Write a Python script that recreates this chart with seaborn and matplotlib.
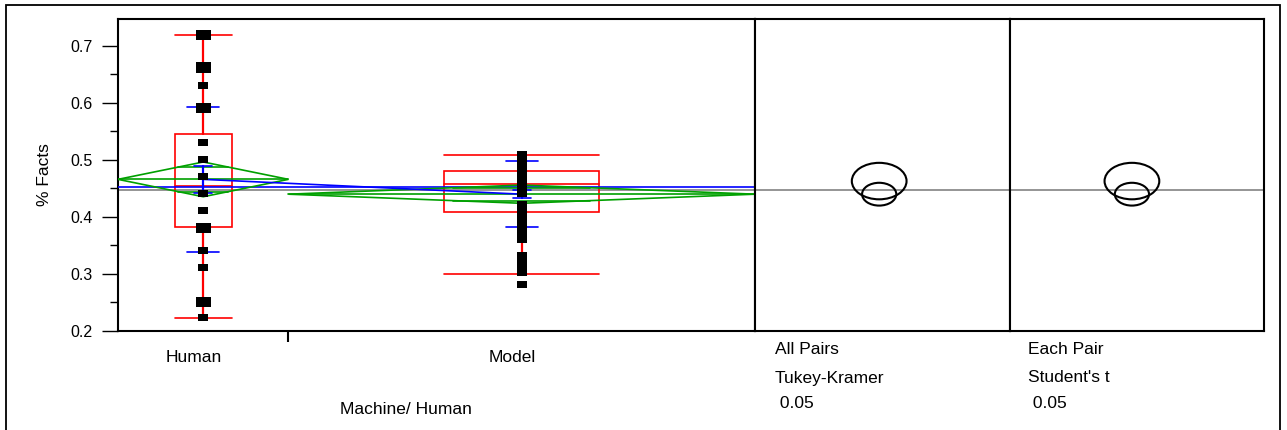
import numpy as np
import pandas as pd
import matplotlib
matplotlib.use("Agg")
import matplotlib.pyplot as plt
import seaborn as sns
from matplotlib.patches import Ellipse, Rectangle, Polygon
from matplotlib.path import Path
from matplotlib.ticker import MultipleLocator
import matplotlib.transforms as mtrans

# ---------------- data ----------------
groups = ["Human", "Model"]
group_counts = [19, 52]

human_values = [0.719, 0.662, 0.6305, 0.5915, 0.531, 0.500, 0.471, 0.442,
                0.412, 0.381, 0.342, 0.312, 0.251, 0.224]
human_mult = [2, 2, 1, 2, 1, 1, 1, 1, 1, 2, 1, 1, 2, 1]

model_values = [0.509, 0.499, 0.490, 0.481, 0.472, 0.463, 0.455, 0.447, 0.442,
                0.4215, 0.412, 0.403, 0.394, 0.385, 0.376, 0.368, 0.361,
                0.332, 0.323, 0.314, 0.306, 0.302, 0.282]
model_mult = [1] * len(model_values)

means = [0.466, 0.440]
ci_half = [0.0305, 0.016]
sds = [0.1275, 0.058]
ses = [0.0243, 0.0075]
q1 = [0.382, 0.408]
medians = [0.455, 0.458]
q3 = [0.546, 0.480]
whisk_lo = [0.222, 0.300]
whisk_hi = [0.720, 0.508]
grand_mean = 0.448
mean_of_means = 0.453

circle_centers = [0.463, 0.440]
circle_radii = [0.032, 0.020]
compare_texts = [["All Pairs", "Tukey-Kramer", " 0.05"],
                 ["Each Pair", "Student's t", " 0.05"]]

y_label = "% Facts"
x_label = "Machine/ Human"
y_ticks = [0.2, 0.3, 0.4, 0.5, 0.6, 0.7]

# ---------------- style ----------------
sns.set_style("white")
plt.rcParams["font.family"] = ["Liberation Sans", "DejaVu Sans"]
plt.rcParams["text.color"] = "black"
plt.rcParams["axes.labelcolor"] = "black"
plt.rcParams["xtick.color"] = "black"
plt.rcParams["ytick.color"] = "black"

W, H = 1287, 430
DPI = 100
fig = plt.figure(figsize=(W / DPI, H / DPI), dpi=DPI)


def fx(px):
    return px / W


def fy(py):
    return 1 - py / H


ax = fig.add_axes([fx(118), fy(331), fx(755) - fx(118), fy(19) - fy(331)])
ax2 = fig.add_axes([fx(755), fy(331), fx(1010) - fx(755), fy(19) - fy(331)])
ax3 = fig.add_axes([fx(1010), fy(331), fx(1264) - fx(1010), fy(19) - fy(331)])

YLIM = (0.2, 0.7473)
ax_w_px = fx(755) * W - fx(118) * W
px = 1.0 / ax_w_px  # one pixel in x data units of main axes

# group segments proportional to counts
tot = sum(group_counts)
edges = np.concatenate([[0], np.cumsum(group_counts) / tot])
centers = (edges[:-1] + edges[1:]) / 2
seg_w = np.diff(edges)

RED = "#FF0000"
BLUE = "#0000FF"
GREEN = "#00A000"
GRAY = "#8C8C8C"
LW = 1.2

# grand mean (gray) across all panels
for a in (ax, ax2, ax3):
    a.axhline(grand_mean, color=GRAY, lw=1.3, zorder=1)

# mean of means (blue)
ax.axhline(mean_of_means, color=BLUE, lw=LW, zorder=3)

for i in range(len(groups)):
    c = centers[i]
    bw = seg_w[i] / 3
    # box
    ax.add_patch(Rectangle((c - bw / 2, q1[i]), bw, q3[i] - q1[i], fill=False,
                           edgecolor=RED, lw=LW, zorder=2))
    ax.plot([c - bw / 2, c + bw / 2], [medians[i]] * 2, color=RED, lw=LW, zorder=2)
    ax.plot([c, c], [whisk_lo[i], q1[i]], color=RED, lw=1.6, zorder=2)
    ax.plot([c, c], [q3[i], whisk_hi[i]], color=RED, lw=1.6, zorder=2)
    for v in (whisk_lo[i], whisk_hi[i]):
        ax.plot([c - bw / 2, c + bw / 2], [v, v], color=RED, lw=LW, zorder=2)
    # means diamond
    l, r = edges[i], edges[i + 1]
    m, h = means[i], ci_half[i]
    ax.add_patch(Polygon([(l, m), (c, m + h), (r, m), (c, m - h)], closed=True,
                         fill=False, edgecolor=GREEN, lw=LW, zorder=3))
    ax.plot([l, r], [m, m], color=GREEN, lw=LW, zorder=3)
    ov = h / np.sqrt(2)
    hw = (1 - 1 / np.sqrt(2)) * seg_w[i] / 2
    for v in (m + ov, m - ov):
        ax.plot([c - hw, c + hw], [v, v], color=GREEN, lw=LW, zorder=3)
    # std dev and SE marks (blue)
    for v in (m + sds[i], m - sds[i]):
        ax.plot([c - 16 * px, c + 16 * px], [v, v], color=BLUE, lw=LW, zorder=4)
    for v in (m + ses[i], m - ses[i]):
        ax.plot([c - 9 * px, c + 9 * px], [v, v], color=BLUE, lw=LW, zorder=4)
    ax.plot([c, c], [m - ses[i], m + ses[i]], color=BLUE, lw=1.6, zorder=4)

# connect means
cm = pd.DataFrame({"x": centers, "y": means})
sns.lineplot(data=cm, x="x", y="y", color=BLUE, lw=LW, ax=ax, zorder=4,
             estimator=None, sort=False)

# points
rect = Path([(-1, -0.7), (1, -0.7), (1, 0.7), (-1, 0.7), (-1, -0.7)],
            [Path.MOVETO, Path.LINETO, Path.LINETO, Path.LINETO, Path.CLOSEPOLY])
pts = pd.DataFrame({
    "x": [centers[0]] * len(human_values) + [centers[1]] * len(model_values),
    "y": human_values + model_values,
    "mult": human_mult + model_mult,
})
sns.scatterplot(data=pts, x="x", y="y", size="mult", sizes={1: 52, 2: 117},
                marker=rect, color="black", linewidth=0, legend=False,
                ax=ax, zorder=6)

# axes formatting main
ax.set_xlim(0, 1)
ax.set_ylim(*YLIM)
ax.set_xlabel("")
ax.set_ylabel("")
ax.set_yticks(y_ticks)
ax.set_yticklabels([f"{t:.1f}" for t in y_ticks])
ax.yaxis.set_minor_locator(MultipleLocator(0.05))
ax.tick_params(axis="y", which="major", direction="out", length=11.5, width=1,
               pad=7, labelsize=11.5, left=True, color="black", labelcolor="black")
ax.tick_params(axis="y", which="minor", direction="out", length=6, width=1,
               left=True, color="black")
ax.set_xticks([edges[1]])
ax.set_xticklabels([""])
ax.tick_params(axis="x", which="major", direction="out", length=8, width=1.5,
               bottom=True, color="black")

for a in (ax, ax2, ax3):
    for s in a.spines.values():
        s.set_color("black")
        s.set_linewidth(1.5)
        s.set_visible(True)

# comparison circles
for a, texts, xc in ((ax2, compare_texts[0], 0.487), (ax3, compare_texts[1], 0.48)):
    a.set_xlim(0, 1)
    a.set_ylim(*YLIM)
    a.set_xticks([])
    a.set_yticks([])
    a.set_facecolor("white")
    apw = a.get_position().width * W
    for cy, rr in zip(circle_centers, circle_radii):
        ry_px = rr * (fy(19) - fy(331)) * H / (YLIM[1] - YLIM[0])
        rx = 1.5 * ry_px / apw
        a.add_patch(Ellipse((xc, cy), 2 * rx, 2 * rr, fill=False,
                            edgecolor="black", lw=1.5, zorder=3))

# texts
FS = 12.5
for i, g in enumerate(groups):
    off = mtrans.offset_copy(ax.transData, fig=fig, x=-9, y=0, units="dots")
    ax.text(centers[i], fy(357), g,
            transform=mtrans.blended_transform_factory(off, fig.transFigure),
            ha="center", va="center", fontsize=FS, color="black")

fig.text(fx(406), fy(410), x_label, ha="center", va="center", fontsize=FS)
fig.text(fx(44), fy(175), y_label, ha="center", va="center", rotation=90, fontsize=FS)

for x0, texts in ((775, compare_texts[0]), (1028, compare_texts[1])):
    for yy, t in zip((350, 378, 404), texts):
        fig.text(fx(x0), fy(yy), t, ha="left", va="center", fontsize=FS)

# outer frame
fig.patches.append(Rectangle((fx(6), fy(432)), fx(1280) - fx(6), fy(5) - fy(432),
                             transform=fig.transFigure, fill=False,
                             edgecolor="black", lw=1.3, zorder=0))

fig.savefig("out.png", dpi=DPI)
